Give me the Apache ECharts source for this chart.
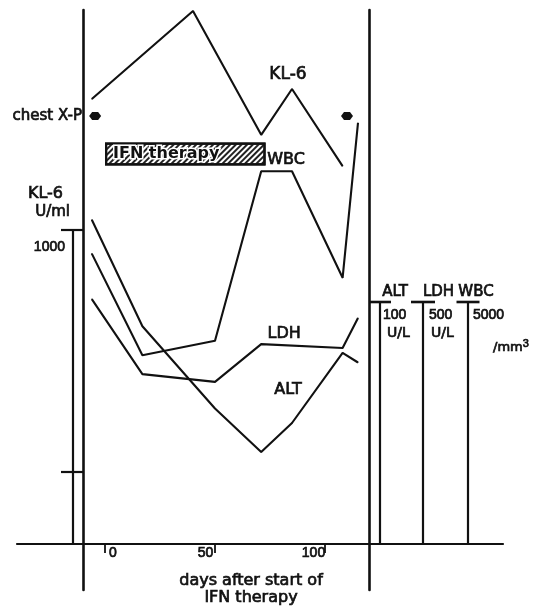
<!DOCTYPE html>
<html>
<head>
<meta charset="utf-8">
<script src="https://cdn.jsdelivr.net/npm/echarts@6/dist/echarts.min.js"></script>
<style>
  html, body { margin: 0; padding: 0; background: #fff; }
  #chart { width: 535px; height: 609px; }
</style>
</head>
<body>
<div id="chart"></div>
<script>
// Sampling days, counted from the start of interferon therapy
const sampleDays = [-6, 17, 50, 71, 85, 108, 115];
const kl6Days = [-6, 40, 71, 85, 108];
const ldhDays = [-6, 17, 50, 71, 108, 115];

// Serum markers
const kl6Values = [3490, 8080, 2480, 3840, 1840];        // KL-6, U/ml
const altValues = [134, 90, 56, 38, 50, 79, 75];          // ALT, U/L
const ldhValues = [506, 351, 335, 413, 405, 467];         // LDH, U/L
const wbcValues = [6000, 3900, 4200, 7700, 7700, 5500, 8700]; // WBC, /mm3

// Events
const chestXpDays = [-4.5, 110];
const ifnTherapyEnd = 73;
const rowNames = ['chest X-P', 'IFN therapy'];

// Axis ticks
const dayTicks = [0, 50, 100];
const kl6Ticks = [100, 1000];
const kl6Labels = [1000];
const altTicks = [100];
const ldhTicks = [500];
const wbcTicks = [5000];

const INK = '#111';
const WORD = 'DejaVu Sans';
const NUM = 'Liberation Sans';
// a thin outline in the ink colour gives the lettering its heavier stroke
const heavy = { color: INK, textBorderColor: INK, textBorderWidth: 0.7 };
const word = (size, extra) => Object.assign({ fontFamily: WORD, fontSize: size }, heavy, extra || {});
const num = (size, extra) => Object.assign({ fontFamily: NUM, fontSize: size }, heavy, extra || {});

function pairs(xs, ys, labelIndex, label) {
  return xs.map((x, i) => {
    const item = { value: [x, ys[i]] };
    if (i === labelIndex) item.label = Object.assign({ show: true }, label);
    return item;
  });
}

const hiddenDays = (g) => ({ gridIndex: g, type: 'value', min: -10, max: 120, show: false });
const hiddenY = (g) => ({ gridIndex: g, type: 'value', show: false });
const noSplit = { show: false };
const line = (w) => ({ show: true, onZero: false, lineStyle: { color: INK, width: w } });
const traceStyle = { color: INK, width: 2.1 };

const chart = echarts.init(document.getElementById('chart'), null, { renderer: 'canvas' });

chart.setOption({
  animation: false,
  backgroundColor: '#fff',
  grid: [
    { left: 83, width: 286, top: 10, height: 580, outerBoundsMode: 'none' },  // frame
    { left: 17, width: 486, top: 10, height: 534, outerBoundsMode: 'none' },  // baseline
    { left: 83, width: 286, top: 10, height: 534, outerBoundsMode: 'none' },  // days axis
    { left: 83, width: 286, top: 97, height: 76, outerBoundsMode: 'none' },   // event rows
    { left: 83, width: 286, top: 230, height: 314, outerBoundsMode: 'none' }, // KL-6
    { left: 83, width: 286, top: 302, height: 242, outerBoundsMode: 'none' }  // ALT / LDH / WBC
  ],
  xAxis: [
    hiddenDays(0),
    {
      gridIndex: 1, type: 'value', min: 0, max: 1,
      axisLine: line(2.2),
      axisTick: { show: false }, axisLabel: { show: false }, splitLine: noSplit
    },
    {
      gridIndex: 2, type: 'value', min: -10, max: 120, position: 'bottom',
      axisLine: { show: false, onZero: false },
      axisTick: { show: true, customValues: dayTicks, inside: false, length: 9,
                  lineStyle: { color: INK, width: 1.8 } },
      axisLabel: {
        customValues: dayTicks, margin: 2,
        formatter: (v) => (v === 0 ? '{r|0}' : v === 50 ? '{l|50}' : '{m|100}'),
        rich: {
          r: num(14, { padding: [0, 0, 0, 16] }),
          l: num(14, { padding: [0, 19, 0, 0] }),
          m: num(14, { padding: [0, 23, 0, 0] })
        }
      },
      splitLine: noSplit,
      name: 'days after start of\nIFN therapy',
      nameLocation: 'middle', nameGap: 28,
      nameTextStyle: word(16, { lineHeight: 17, padding: [0, 0, 0, 50] })
    },
    hiddenDays(3),
    hiddenDays(4),
    hiddenDays(5)
  ],
  yAxis: [
    { gridIndex: 0, type: 'value', position: 'left', axisLine: line(2.6),
      axisTick: { show: false }, axisLabel: { show: false }, splitLine: noSplit },
    { gridIndex: 0, type: 'value', position: 'right', axisLine: line(2.6),
      axisTick: { show: false }, axisLabel: { show: false }, splitLine: noSplit },
    hiddenY(1),
    hiddenY(2),
    {
      gridIndex: 3, type: 'category', data: rowNames, inverse: true,
      axisLine: { show: false, onZero: false }, axisTick: { show: false }, splitLine: noSplit,
      axisLabel: Object.assign(word(15), {
        margin: 1,
        formatter: (v) => (v === rowNames[0] ? v : '')
      })
    },
    {
      gridIndex: 4, type: 'log', logBase: 10, min: 50, max: 1000,
      position: 'left', offset: 10,
      axisLine: line(2.2),
      axisTick: { show: true, customValues: kl6Ticks, inside: false, length: 12,
                  lineStyle: { color: INK, width: 2.2 } },
      axisLabel: Object.assign(num(14), {
        customValues: kl6Labels, margin: 8, verticalAlign: 'top', lineHeight: 16,
        padding: [9, 0, 0, 0], formatter: (v) => String(v)
      }),
      splitLine: noSplit,
      name: '{a|KL-6}\n{b|U/ml}', nameLocation: 'end', nameGap: 8,
      nameTextStyle: {
        align: 'right', verticalAlign: 'bottom',
        rich: {
          a: word(16, { lineHeight: 19, align: 'right', padding: [0, 10, 0, 0] }),
          b: word(15, { lineHeight: 19, align: 'right', padding: [0, 3, 0, 0] })
        }
      }
    },
    {
      gridIndex: 4, type: 'log', logBase: 10, min: 50, max: 1000,
      position: 'left', offset: 10,
      axisLine: { show: false, onZero: false },
      axisTick: { show: true, customValues: kl6Ticks, inside: true, length: 10,
                  lineStyle: { color: INK, width: 2.2 } },
      axisLabel: { show: false }, splitLine: noSplit
    },
    {
      gridIndex: 5, type: 'value', min: 0, max: 100, position: 'right', offset: 11,
      axisLine: Object.assign(line(2.2), { symbol: ['none', 'rect'], symbolSize: [22, 2.6] }),
      axisTick: { show: false }, splitLine: noSplit,
      axisLabel: {
        customValues: altTicks, margin: 3, verticalAlign: 'top', padding: [4, 0, 0, 0],
        formatter: (v) => '{n|' + v + '}\n{u|U/L}',
        rich: {
          n: num(14, { lineHeight: 18 }),
          u: word(14, { lineHeight: 18, padding: [0, 0, 0, 4] })
        }
      },
      name: 'ALT', nameLocation: 'end', nameGap: 2,
      nameTextStyle: word(15, { align: 'center', verticalAlign: 'bottom', padding: [0, 0, 0, 30] })
    },
    {
      gridIndex: 5, type: 'value', min: 0, max: 500, position: 'right', offset: 54,
      axisLine: Object.assign(line(2.2), { symbol: ['none', 'rect'], symbolSize: [24, 2.6] }),
      axisTick: { show: false }, splitLine: noSplit,
      axisLabel: {
        customValues: ldhTicks, margin: 6, verticalAlign: 'top', padding: [4, 0, 0, 0],
        formatter: (v) => '{n|' + v + '}\n{u|U/L}',
        rich: {
          n: num(14, { lineHeight: 18 }),
          u: word(14, { lineHeight: 18, padding: [0, 0, 0, 2] })
        }
      },
      name: 'LDH', nameLocation: 'end', nameGap: 2,
      nameTextStyle: word(15, { align: 'center', verticalAlign: 'bottom', padding: [0, 0, 0, 31] })
    },
    {
      gridIndex: 5, type: 'value', min: 0, max: 5000, position: 'right', offset: 99,
      axisLine: Object.assign(line(2.2), { symbol: ['none', 'rect'], symbolSize: [23, 2.6] }),
      axisTick: { show: false }, splitLine: noSplit,
      axisLabel: {
        customValues: wbcTicks, margin: 5, verticalAlign: 'top', padding: [4, 0, 0, 0],
        lineHeight: 15,
        formatter: (v) => '{n|' + v + '}\n\n{u|/mm}{s|3}',
        rich: {
          n: num(14, { lineHeight: 18 }),
          u: word(13, { lineHeight: 18, padding: [0, 0, 0, 20] }),
          s: num(11, { lineHeight: 18, padding: [0, 0, 8, 0] })
        }
      },
      name: 'WBC', nameLocation: 'end', nameGap: 2,
      nameTextStyle: word(15, { align: 'center', verticalAlign: 'bottom', padding: [0, 0, 0, 16] })
    }
  ],
  series: [
    {
      name: 'chest X-P', type: 'scatter', xAxisIndex: 3, yAxisIndex: 4,
      symbol: 'path://M0,5 L3,0 L9,0 L12,5 L9,10 L3,10 Z', symbolSize: [12, 8],
      itemStyle: { color: INK, opacity: 1 },
      data: chestXpDays.map((d) => [d, rowNames[0]])
    },
    {
      name: 'IFN therapy', type: 'bar', xAxisIndex: 3, yAxisIndex: 4,
      barWidth: 23,
      itemStyle: {
        color: '#fff', borderColor: INK, borderWidth: 2.2,
        decal: { symbol: 'rect', symbolSize: 1, dashArrayX: [[1, 0]], dashArrayY: [2, 1.5],
                 rotation: -Math.PI / 4, color: '#222' }
      },
      label: {
        show: true, position: 'insideLeft', distance: 8, formatter: rowNames[1],
        fontFamily: WORD, fontSize: 16, fontWeight: 'bold', color: INK,
        textBorderColor: '#fff', textBorderWidth: 3
      },
      data: ['-', ifnTherapyEnd]
    },
    {
      name: 'KL-6', type: 'line', xAxisIndex: 4, yAxisIndex: 5, clip: false,
      symbol: 'circle', symbolSize: 1, showSymbol: true,
      itemStyle: { color: INK }, lineStyle: traceStyle,
      data: pairs(kl6Days, kl6Values, 3,
                  word(17, { position: 'top', distance: 5, offset: [-4, 0], formatter: 'KL-6' }))
    },
    {
      name: 'ALT', type: 'line', xAxisIndex: 5, yAxisIndex: 7, clip: false,
      symbol: 'circle', symbolSize: 1, showSymbol: true,
      itemStyle: { color: INK }, lineStyle: traceStyle,
      data: pairs(sampleDays, altValues, 4,
                  word(16, { position: 'top', distance: 25, offset: [-4, 0], formatter: 'ALT' }))
    },
    {
      name: 'LDH', type: 'line', xAxisIndex: 5, yAxisIndex: 8, clip: false,
      symbol: 'circle', symbolSize: 1, showSymbol: true,
      itemStyle: { color: INK }, lineStyle: traceStyle,
      data: pairs(ldhDays, ldhValues, 3,
                  word(16, { position: 'top', distance: 2, offset: [23, 0], formatter: 'LDH' }))
    },
    {
      name: 'WBC', type: 'line', xAxisIndex: 5, yAxisIndex: 9, clip: false,
      symbol: 'circle', symbolSize: 1, showSymbol: true,
      itemStyle: { color: INK }, lineStyle: traceStyle,
      data: pairs(sampleDays, wbcValues, 4,
                  word(16, { position: 'top', distance: 3, offset: [-6, 0], formatter: 'WBC' }))
    }
  ]
});
</script>
</body>
</html>
